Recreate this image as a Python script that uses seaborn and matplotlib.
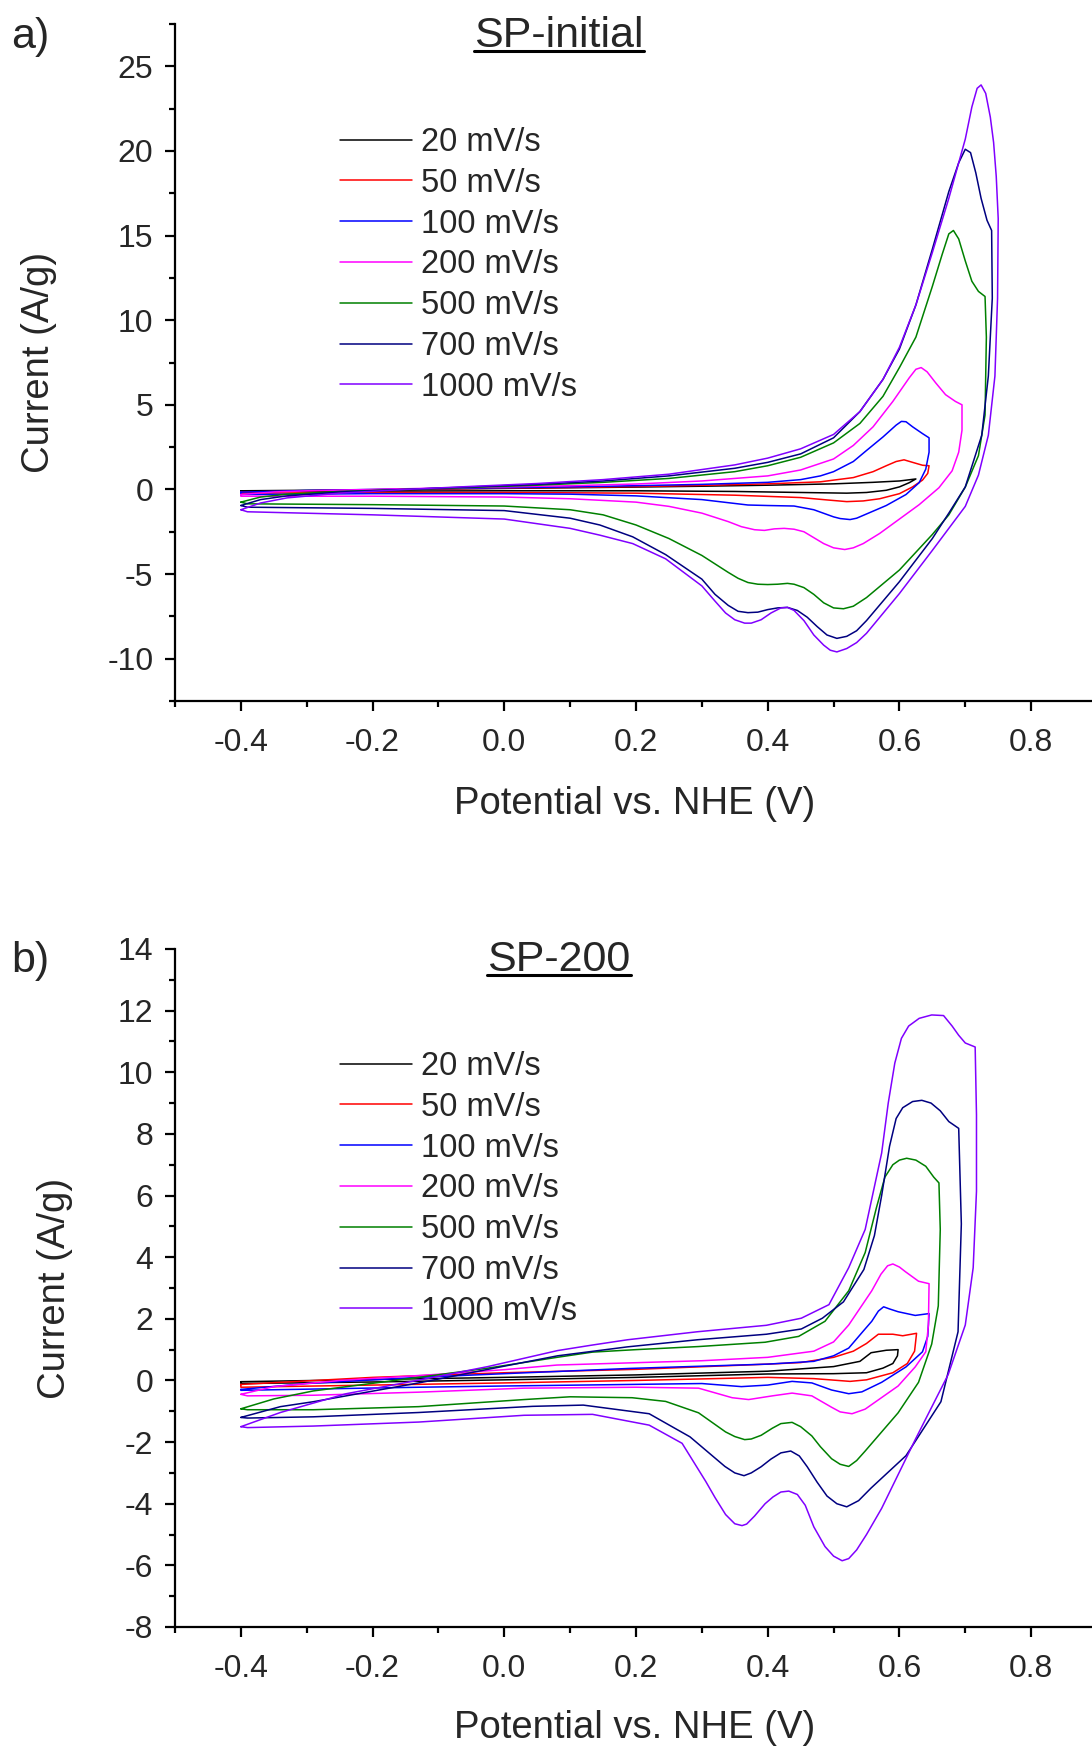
import matplotlib
matplotlib.use("Agg")
import matplotlib.pyplot as plt
from matplotlib.lines import Line2D
from matplotlib.ticker import MultipleLocator, FormatStrFormatter
import numpy as np
import seaborn as sns

# scan rates and line colours (Origin defaults)
rates = ["20 mV/s", "50 mV/s", "100 mV/s", "200 mV/s", "500 mV/s", "700 mV/s", "1000 mV/s"]
colors = ["#000000", "#ff0000", "#0000ff", "#ff00ff", "#008000", "#000080", "#8000ff"]

x_ticks = [-0.4, -0.2, 0.0, 0.2, 0.4, 0.6, 0.8]
ya_ticks = [-10, -5, 0, 5, 10, 15, 20, 25]
yb_ticks = [-8, -6, -4, -2, 0, 2, 4, 6, 8, 10, 12, 14]

# ---- panel a: SP-initial, (potential V, current A/g) ----
a_20 = [(-0.40, -0.08), (-0.30, -0.05), (-0.20, -0.02), (-0.10, 0.02), (0.00, 0.06), (0.10, 0.10),
        (0.20, 0.14), (0.30, 0.19), (0.40, 0.25), (0.50, 0.33), (0.56, 0.42), (0.60, 0.50), (0.625, 0.62),
        (0.615, 0.40), (0.60, 0.15), (0.58, -0.05), (0.55, -0.18), (0.52, -0.22), (0.45, -0.18),
        (0.35, -0.12), (0.20, -0.08), (0.00, -0.08), (-0.20, -0.10), (-0.40, -0.12), (-0.40, -0.08)]
a_50 = [(-0.40, -0.16), (-0.30, -0.08), (-0.20, -0.02), (-0.10, 0.03), (0.00, 0.08), (0.10, 0.12),
        (0.20, 0.17), (0.30, 0.24), (0.40, 0.33), (0.48, 0.45), (0.53, 0.70), (0.56, 1.05), (0.58, 1.40),
        (0.595, 1.65), (0.607, 1.75), (0.62, 1.60), (0.635, 1.43), (0.645, 1.40),
        (0.643, 0.95), (0.635, 0.55), (0.62, 0.15), (0.60, -0.25), (0.57, -0.55), (0.545, -0.68),
        (0.52, -0.72), (0.49, -0.62), (0.45, -0.48), (0.35, -0.34), (0.20, -0.22), (0.00, -0.18),
        (-0.20, -0.18), (-0.40, -0.22), (-0.40, -0.16)]
a_100 = [(-0.40, -0.16), (-0.30, -0.06), (-0.20, 0.00), (-0.10, 0.05), (0.00, 0.10), (0.10, 0.15),
         (0.20, 0.22), (0.30, 0.30), (0.40, 0.42), (0.45, 0.58), (0.48, 0.80), (0.50, 1.05), (0.53, 1.65),
         (0.55, 2.30), (0.575, 3.10), (0.595, 3.80), (0.603, 4.02), (0.61, 4.00), (0.62, 3.70),
         (0.635, 3.30), (0.645, 3.05),
         (0.645, 2.20), (0.64, 1.20), (0.63, 0.40), (0.61, -0.30), (0.58, -0.95), (0.55, -1.45),
         (0.535, -1.70), (0.525, -1.78), (0.51, -1.72), (0.50, -1.62), (0.47, -1.20), (0.44, -0.98),
         (0.40, -0.95), (0.37, -0.92), (0.30, -0.60), (0.20, -0.38), (0.10, -0.28), (0.00, -0.25),
         (-0.20, -0.25), (-0.40, -0.30), (-0.40, -0.16)]
a_200 = [(-0.40, -0.30), (-0.35, -0.15), (-0.30, -0.08), (-0.20, 0.00), (-0.10, 0.08), (0.00, 0.15),
         (0.10, 0.22), (0.20, 0.32), (0.30, 0.50), (0.40, 0.80), (0.45, 1.15), (0.50, 1.80), (0.53, 2.60),
         (0.56, 3.70), (0.59, 5.20), (0.615, 6.60), (0.625, 7.10), (0.633, 7.20), (0.642, 6.95),
         (0.655, 6.30), (0.67, 5.60), (0.685, 5.20), (0.695, 5.00),
         (0.695, 3.50), (0.69, 2.20), (0.68, 1.10), (0.66, 0.10), (0.63, -0.90), (0.60, -1.75),
         (0.57, -2.60), (0.545, -3.20), (0.53, -3.45), (0.517, -3.55), (0.50, -3.45), (0.485, -3.20),
         (0.47, -2.85), (0.455, -2.50), (0.44, -2.35), (0.425, -2.30), (0.41, -2.33), (0.395, -2.42),
         (0.38, -2.38), (0.36, -2.20), (0.34, -1.90), (0.30, -1.40), (0.25, -1.00), (0.20, -0.75),
         (0.10, -0.55), (0.00, -0.45), (-0.20, -0.40), (-0.40, -0.40), (-0.40, -0.30)]
a_500 = [(-0.40, -0.75), (-0.37, -0.45), (-0.33, -0.28), (-0.25, -0.12), (-0.15, 0.00), (-0.05, 0.12),
         (0.05, 0.25), (0.15, 0.42), (0.25, 0.65), (0.35, 1.05), (0.40, 1.40), (0.45, 1.90), (0.50, 2.75),
         (0.54, 3.90), (0.575, 5.50), (0.60, 7.20), (0.625, 9.00), (0.65, 12.00), (0.665, 13.90),
         (0.675, 15.10), (0.682, 15.30), (0.69, 14.80), (0.70, 13.50), (0.71, 12.30), (0.72, 11.70),
         (0.73, 11.40),
         (0.732, 9.00), (0.73, 4.40), (0.72, 2.00), (0.70, 0.14), (0.675, -1.50), (0.65, -2.66),
         (0.60, -4.76), (0.55, -6.39), (0.53, -6.90), (0.515, -7.05), (0.50, -7.00), (0.485, -6.70),
         (0.47, -6.20), (0.455, -5.80), (0.44, -5.60), (0.43, -5.55), (0.415, -5.60), (0.40, -5.62),
         (0.385, -5.60), (0.37, -5.50), (0.355, -5.25), (0.34, -4.90), (0.30, -3.90), (0.25, -2.90),
         (0.20, -2.10), (0.15, -1.50), (0.10, -1.20), (0.00, -0.98), (-0.20, -0.90), (-0.39, -0.85),
         (-0.40, -0.75)]
a_700 = [(-0.40, -0.95), (-0.37, -0.60), (-0.33, -0.38), (-0.25, -0.15), (-0.15, 0.00), (-0.05, 0.15),
         (0.05, 0.30), (0.15, 0.50), (0.25, 0.80), (0.35, 1.25), (0.40, 1.60), (0.45, 2.10), (0.50, 3.05),
         (0.54, 4.60), (0.575, 6.50), (0.60, 8.30), (0.625, 10.90), (0.65, 14.20), (0.675, 17.60),
         (0.69, 19.30), (0.70, 20.10), (0.708, 19.90), (0.716, 18.70), (0.724, 17.20), (0.733, 15.90),
         (0.74, 15.30),
         (0.741, 11.30), (0.735, 6.70), (0.725, 3.20), (0.70, 0.15), (0.675, -1.40), (0.65, -2.90),
         (0.60, -5.45), (0.55, -7.75), (0.535, -8.35), (0.52, -8.68), (0.505, -8.80), (0.49, -8.60),
         (0.475, -8.10), (0.46, -7.55), (0.445, -7.15), (0.43, -6.97), (0.415, -7.00), (0.40, -7.10),
         (0.385, -7.25), (0.37, -7.28), (0.355, -7.20), (0.34, -6.85), (0.32, -6.20), (0.30, -5.30),
         (0.245, -3.85), (0.195, -2.80), (0.145, -2.10), (0.10, -1.70), (0.00, -1.25), (-0.20, -1.12),
         (-0.39, -1.05), (-0.40, -0.95)]
a_1000 = [(-0.40, -1.20), (-0.37, -0.80), (-0.33, -0.50), (-0.25, -0.22), (-0.15, 0.00), (-0.05, 0.18),
          (0.05, 0.35), (0.15, 0.58), (0.25, 0.90), (0.35, 1.45), (0.40, 1.85), (0.45, 2.40), (0.50, 3.25),
          (0.54, 4.60), (0.575, 6.50), (0.60, 8.40), (0.625, 10.90), (0.65, 14.00), (0.675, 17.20),
          (0.70, 20.70), (0.71, 22.60), (0.718, 23.70), (0.724, 23.90), (0.731, 23.40), (0.738, 22.00),
          (0.743, 20.50), (0.747, 18.50), (0.75, 16.00),
          (0.749, 11.30), (0.745, 6.70), (0.735, 3.20), (0.72, 0.85), (0.70, -1.00), (0.65, -3.60),
          (0.60, -6.15), (0.55, -8.50), (0.535, -9.05), (0.52, -9.40), (0.505, -9.60), (0.495, -9.50),
          (0.485, -9.20), (0.47, -8.60), (0.455, -7.75), (0.44, -7.15), (0.43, -6.97), (0.42, -7.00),
          (0.405, -7.30), (0.39, -7.70), (0.375, -7.90), (0.365, -7.90), (0.35, -7.70), (0.336, -7.30),
          (0.32, -6.60), (0.30, -5.70), (0.245, -4.10), (0.195, -3.20), (0.145, -2.70), (0.10, -2.30),
          (0.00, -1.75), (-0.20, -1.50), (-0.39, -1.32), (-0.40, -1.20)]

# ---- panel b: SP-200 ----
b_20 = [(-0.40, -0.04), (-0.20, 0.03), (0.00, 0.10), (0.20, 0.18), (0.40, 0.30), (0.50, 0.45),
        (0.54, 0.62), (0.557, 0.90), (0.58, 0.98), (0.598, 1.00),
        (0.597, 0.80), (0.59, 0.55), (0.575, 0.40), (0.55, 0.25), (0.50, 0.22), (0.40, 0.21),
        (0.20, 0.10), (0.00, 0.02), (-0.20, -0.05), (-0.40, -0.10), (-0.40, -0.04)]
b_50 = [(-0.40, -0.13), (-0.20, 0.10), (0.00, 0.25), (0.20, 0.36), (0.40, 0.53), (0.45, 0.58),
        (0.50, 0.75), (0.53, 0.95), (0.55, 1.20), (0.568, 1.50), (0.59, 1.50), (0.605, 1.45), (0.626, 1.53),
        (0.623, 0.95), (0.612, 0.55), (0.59, 0.25), (0.55, 0.02), (0.525, -0.03), (0.47, 0.06),
        (0.40, 0.10), (0.20, 0.00), (0.00, -0.08), (-0.20, -0.15), (-0.40, -0.22), (-0.40, -0.13)]
b_100 = [(-0.40, -0.29), (-0.30, -0.10), (-0.13, 0.10), (0.00, 0.22), (0.19, 0.39), (0.40, 0.53),
         (0.47, 0.62), (0.50, 0.80), (0.523, 1.05), (0.545, 1.60), (0.558, 1.92), (0.568, 2.25),
         (0.576, 2.39), (0.585, 2.32), (0.598, 2.23), (0.624, 2.11), (0.645, 2.17),
         (0.643, 1.43), (0.635, 0.93), (0.61, 0.44), (0.573, -0.06), (0.543, -0.37), (0.523, -0.43),
         (0.497, -0.31), (0.467, -0.08), (0.437, -0.03), (0.40, -0.15), (0.36, -0.20), (0.30, -0.10),
         (0.19, -0.13), (0.00, -0.18), (-0.13, -0.22), (-0.40, -0.32), (-0.40, -0.29)]
b_200 = [(-0.40, -0.45), (-0.35, -0.20), (-0.25, 0.00), (-0.10, 0.20), (0.00, 0.35), (0.08, 0.50),
         (0.19, 0.57), (0.30, 0.64), (0.40, 0.75), (0.47, 0.95), (0.50, 1.25), (0.523, 1.80),
         (0.558, 2.91), (0.572, 3.45), (0.582, 3.72), (0.59, 3.78), (0.60, 3.68), (0.609, 3.53),
         (0.629, 3.22), (0.645, 3.14),
         (0.644, 1.80), (0.64, 0.93), (0.624, 0.44), (0.598, -0.18), (0.548, -0.93), (0.528, -1.08),
         (0.51, -1.02), (0.497, -0.87), (0.467, -0.50), (0.437, -0.41), (0.407, -0.50), (0.371, -0.62),
         (0.346, -0.56), (0.295, -0.25), (0.20, -0.22), (0.03, -0.25), (-0.13, -0.38), (-0.29, -0.48),
         (-0.39, -0.50), (-0.40, -0.45)]
b_500 = [(-0.40, -0.92), (-0.35, -0.60), (-0.29, -0.34), (-0.13, 0.10), (-0.025, 0.40), (0.08, 0.75),
         (0.134, 0.92), (0.20, 1.00), (0.295, 1.10), (0.396, 1.24), (0.447, 1.43), (0.487, 1.92),
         (0.523, 2.91), (0.548, 4.15), (0.565, 5.60), (0.578, 6.60), (0.59, 7.00), (0.60, 7.15),
         (0.611, 7.21), (0.625, 7.15), (0.64, 6.95), (0.652, 6.60), (0.66, 6.41),
         (0.662, 4.90), (0.659, 2.42), (0.649, 1.18), (0.629, -0.06), (0.598, -1.05), (0.548, -2.29),
         (0.535, -2.60), (0.523, -2.79), (0.51, -2.72), (0.497, -2.54), (0.48, -2.15), (0.467, -1.80),
         (0.45, -1.50), (0.437, -1.36), (0.42, -1.40), (0.407, -1.55), (0.39, -1.78), (0.375, -1.90),
         (0.365, -1.92), (0.35, -1.82), (0.336, -1.67), (0.295, -1.05), (0.245, -0.68), (0.194, -0.56),
         (0.10, -0.53), (0.03, -0.62), (-0.13, -0.85), (-0.29, -0.95), (-0.39, -0.95), (-0.40, -0.92)]
b_700 = [(-0.40, -1.20), (-0.34, -0.85), (-0.29, -0.69), (-0.13, -0.08), (-0.025, 0.36), (0.081, 0.80),
         (0.187, 1.09), (0.293, 1.32), (0.398, 1.50), (0.451, 1.67), (0.483, 2.02), (0.515, 2.55),
         (0.546, 3.60), (0.562, 4.70), (0.573, 6.00), (0.585, 7.60), (0.595, 8.50), (0.605, 8.85),
         (0.62, 9.05), (0.634, 9.09), (0.648, 9.00), (0.662, 8.75), (0.675, 8.40), (0.69, 8.18),
         (0.694, 5.08), (0.689, 1.58), (0.663, -0.69), (0.61, -2.44), (0.557, -3.49), (0.538, -3.90),
         (0.52, -4.10), (0.505, -4.00), (0.49, -3.75), (0.475, -3.30), (0.46, -2.80), (0.448, -2.45),
         (0.435, -2.29), (0.42, -2.35), (0.405, -2.55), (0.39, -2.80), (0.375, -3.00), (0.364, -3.09),
         (0.35, -3.00), (0.335, -2.79), (0.282, -1.83), (0.22, -1.08), (0.12, -0.80), (0.043, -0.84),
         (-0.13, -1.04), (-0.29, -1.18), (-0.39, -1.22), (-0.40, -1.20)]
b_1000 = [(-0.40, -1.50), (-0.34, -1.04), (-0.24, -0.43), (-0.13, 0.01), (-0.025, 0.45), (0.081, 0.97),
          (0.134, 1.15), (0.187, 1.32), (0.293, 1.58), (0.398, 1.79), (0.451, 2.02), (0.493, 2.46),
          (0.523, 3.66), (0.548, 4.90), (0.573, 7.38), (0.583, 9.00), (0.593, 10.30), (0.603, 11.10),
          (0.614, 11.50), (0.63, 11.75), (0.649, 11.86), (0.667, 11.84), (0.68, 11.50), (0.69, 11.20),
          (0.70, 10.95), (0.715, 10.82),
          (0.717, 8.62), (0.717, 6.14), (0.712, 3.66), (0.70, 1.80), (0.674, 0.19), (0.624, -1.92),
          (0.573, -4.15), (0.55, -5.00), (0.535, -5.50), (0.523, -5.78), (0.513, -5.85), (0.50, -5.70),
          (0.487, -5.39), (0.47, -4.75), (0.457, -4.05), (0.445, -3.70), (0.432, -3.59), (0.42, -3.62),
          (0.408, -3.78), (0.396, -4.00), (0.38, -4.40), (0.368, -4.66), (0.361, -4.71), (0.35, -4.65),
          (0.336, -4.35), (0.32, -3.80), (0.306, -3.28), (0.27, -2.04), (0.22, -1.45), (0.134, -1.10),
          (0.03, -1.13), (-0.13, -1.35), (-0.29, -1.48), (-0.39, -1.53), (-0.40, -1.50)]

panel_a = [a_20, a_50, a_100, a_200, a_500, a_700, a_1000]
panel_b = [b_20, b_50, b_100, b_200, b_500, b_700, b_1000]

sns.set_theme(style="ticks")
plt.rcParams["font.family"] = ["Liberation Sans", "DejaVu Sans"]
plt.rcParams["axes.unicode_minus"] = False

W, H = 1092, 1746
fig = plt.figure(figsize=(W / 100, H / 100), dpi=100)


def px_axes(left, top, right, bottom):
    return fig.add_axes([left / W, 1 - bottom / H, (right - left) / W, (bottom - top) / H])


def draw(ax, curves, ylim, yticks, yminor, title, tag, title_y, ylab_x, xlab_y):
    for pts, lab, c in zip(curves, rates, colors):
        v = np.array([p[0] for p in pts])
        i = np.array([p[1] for p in pts])
        line = sns.lineplot(x=v, y=i, sort=False, estimator=None, color=c, lw=1.1, label=lab, ax=ax)
    for ln in ax.get_lines():
        ln.set_solid_joinstyle("round")
    ax.set_xlim(-0.5, 0.9)
    ax.set_ylim(*ylim)
    ax.set_xticks(x_ticks)
    ax.set_yticks(yticks)
    ax.xaxis.set_minor_locator(MultipleLocator(0.1))
    ax.yaxis.set_minor_locator(MultipleLocator(yminor))
    ax.xaxis.set_major_formatter(FormatStrFormatter("%.1f"))
    ax.yaxis.set_major_formatter(FormatStrFormatter("%d"))
    sns.despine(ax=ax)
    for s in ("left", "bottom"):
        ax.spines[s].set_linewidth(1.6)
        ax.spines[s].set_color("black")
    ax.tick_params(which="major", length=7.5, width=1.6, labelsize=23, color="black")
    ax.tick_params(which="minor", length=4, width=1.6, color="black")
    ax.tick_params(axis="x", which="major", pad=12)
    ax.tick_params(axis="y", which="major", pad=8)
    ax.set_xlabel("Potential vs. NHE (V)", fontsize=27.5)
    ax.set_ylabel("Current (A/g)", fontsize=27.5)
    ax.xaxis.label.set_va("center")
    ax.yaxis.label.set_va("center")
    ax.xaxis.set_label_coords(0.498, xlab_y)
    ax.yaxis.set_label_coords(ylab_x, 0.5)
    leg = ax.legend(loc="upper left", bbox_to_anchor=(340 / W, 1 - (title_y + 91) / H),
                    bbox_transform=fig.transFigure, frameon=False, fontsize=23.5,
                    handlelength=2.2, handletextpad=0.27, labelspacing=0.30,
                    borderpad=0, borderaxespad=0)
    for ln in leg.get_lines():
        ln.set_linewidth(1.1)
    t = fig.text(559 / W, 1 - title_y / H, title, fontsize=31, ha="center", va="center")
    fig.text(11 / W, 1 - (title_y + 1) / H, tag, fontsize=31, ha="left", va="center")
    return t


ax_a = px_axes(175, 24, 1097, 701)
ax_b = px_axes(175, 949, 1097, 1627)
t_a = draw(ax_a, panel_a, (-12.5, 27.5), ya_ticks, 2.5, "SP-initial", "a)", 36, -0.147, -0.152)
t_b = draw(ax_b, panel_b, (-8, 14), yb_ticks, 1, "SP-200", "b)", 960, -0.130, -0.149)

# underline the panel titles
fig.canvas.draw()
r = fig.canvas.get_renderer()
for t in (t_a, t_b):
    bb = t.get_window_extent(r)
    y = (bb.y0 + 5) / H
    fig.add_artist(Line2D([bb.x0 / W, bb.x1 / W], [y, y], color="black", lw=2.2))

fig.savefig("out.png", dpi=100)
